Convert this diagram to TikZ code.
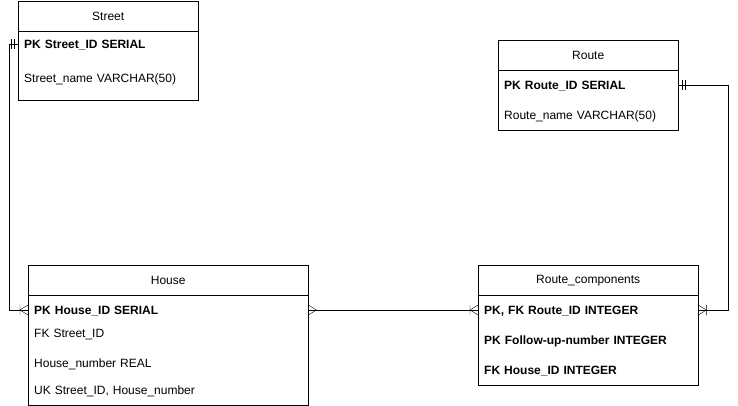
\documentclass[tikz,border=0pt]{standalone}
\usepackage{fontspec}
\setmainfont{Liberation Sans}
\usetikzlibrary{positioning}
\tikzset{
  entity/.style={draw, anchor=north west, inner sep=0pt},
  title/.style={inner sep=0pt, minimum height=30pt},
  row/.style={anchor=west, inner xsep=6pt, inner ysep=0pt, align=left, text height=8.6pt, text depth=0pt},
  onebars/.pic={\draw (-4,-5) -- (-4,5) (-7,-5) -- (-7,5);},
  manyfoot/.pic={\draw (-8,0) -- (0,-5) (-8,0) -- (0,5);},
  mandmany/.pic={\draw (-8,0) -- (0,-5) (-8,0) -- (0,5) (-8,-5) -- (-8,5);},
}
\begin{document}
\begin{tikzpicture}[x=1pt, y=-1pt, font=\fontsize{12pt}{14pt}\selectfont]
\useasboundingbox (0,0) rectangle (738,406);

\node[entity, minimum width=180pt, minimum height=99pt] (street) at (18,1) {};
\node[title, minimum width=180pt, below=0pt of street.north] (stitle) {Street};
\draw (stitle.south west) -- (stitle.south east);
\node[row, text width=168pt] (spk) at (18,44) {\bfseries PK Street\_ID SERIAL};
\node[row, text width=168pt] (sname) at (18,78) {Street\_name VARCHAR(50)};

\node[entity, minimum width=180pt, minimum height=90pt] (route) at (498,40) {};
\node[title, minimum width=180pt, below=0pt of route.north] (rtitle) {Route};
\draw (rtitle.south west) -- (rtitle.south east);
\node[row, text width=168pt] (rpk) at (498,85) {\bfseries PK Route\_ID SERIAL};
\node[row, text width=168pt] (rname) at (498,115) {Route\_name VARCHAR(50)};

\node[entity, minimum width=280pt, minimum height=140pt] (house) at (28,265) {};
\node[title, minimum width=280pt, below=0pt of house.north] (htitle) {House};
\draw (htitle.south west) -- (htitle.south east);
\node[row, text width=268pt] (hpk) at (28,310) {\bfseries PK House\_ID SERIAL};
\node[row, text width=268pt] (hfk) at (28,333) {FK Street\_ID};
\node[row, text width=268pt] (hnum) at (28,363) {House\_number REAL};
\node[row, text width=268pt] (huk) at (28,390) {UK Street\_ID, House\_number};

\node[entity, minimum width=220pt, minimum height=120pt] (comp) at (478,265) {};
\node[title, minimum width=220pt, below=0pt of comp.north] (ctitle) {Route\_components};
\draw (ctitle.south west) -- (ctitle.south east);
\node[row, text width=208pt] (cpk) at (478,310) {\bfseries PK, FK Route\_ID INTEGER};
\node[row, text width=208pt] (cnum) at (478,340) {\bfseries PK Follow-up-number INTEGER};
\node[row, text width=208pt] (cfk) at (478,370) {\bfseries FK House\_ID INTEGER};

\draw (spk.west) -- ++(-9,0) |- (hpk.west);
\draw (rpk.east) -- ++(50,0) |- (cpk.east);
\draw (hpk.east) -- (cpk.west);

\pic at (spk.west) {onebars};
\pic at (hpk.west) {mandmany};
\pic[rotate=180] at (hpk.east) {manyfoot};
\pic at (cpk.west) {mandmany};
\pic[rotate=180] at (cpk.east) {mandmany};
\pic[rotate=180] at (rpk.east) {onebars};
\end{tikzpicture}
\end{document}
